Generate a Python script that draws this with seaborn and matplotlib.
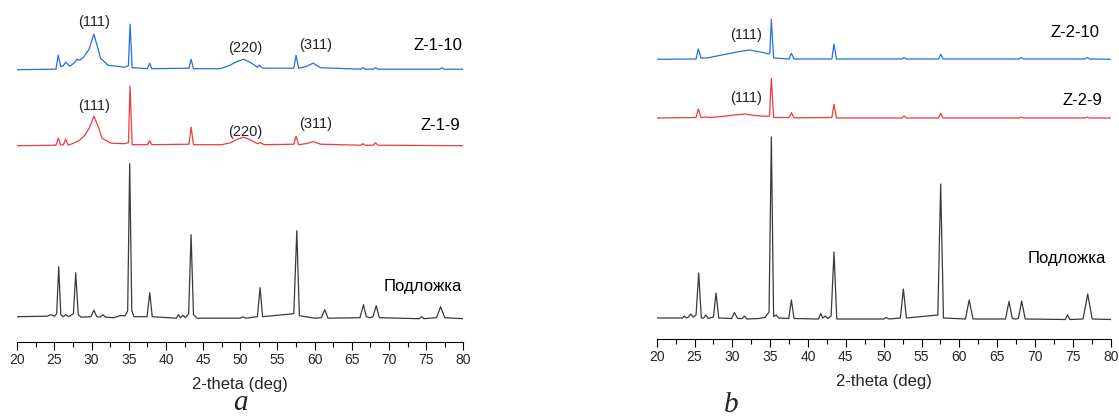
import numpy as np
import pandas as pd
import matplotlib
matplotlib.use("Agg")
import matplotlib.pyplot as plt
from matplotlib.ticker import MultipleLocator
import seaborn as sns

# ---- data (2-theta in deg, intensity in a.u. above each trace baseline)
# panel a, substrate
a_sub_theta = [20.0, 24.0, 24.5, 25.0, 25.3, 25.57, 25.85, 26.2, 26.5, 26.9, 27.55, 27.86, 28.2, 28.6,
               29.9, 30.3, 30.7, 31.1, 31.5, 31.9, 33.0, 33.8, 34.5, 34.85, 35.12, 35.4, 35.7, 37.45,
               37.82, 38.15, 41.4, 41.67, 41.95, 42.3, 42.6, 43.05, 43.38, 43.7, 44.2, 50.0, 50.3, 50.7,
               52.3, 52.66, 53.0, 57.2, 57.6, 57.95, 60.0, 60.9, 61.37, 61.8, 66.1, 66.57, 66.95, 67.4,
               67.85, 68.28, 68.7, 74.1, 74.4, 74.7, 76.4, 76.95, 77.5, 80.0]
a_sub_int = [2, 2.5, 4, 2.5, 5, 52, 4, 2, 4, 2, 5, 46, 4, 1.5,
             2, 8.5, 2, 1.5, 4, 1.5, 1, 3, 3, 8, 155, 8, 2, 2,
             26, 2, 0.5, 4, 1, 3.5, 1, 5, 84, 4, 0.5, 0.5, 2, 0.5,
             2, 31, 2, 5, 88, 3, 0.5, 1, 9, 0.5, 1, 14, 2, 1,
             2, 13, 1, 0, 2, 0, 1, 12, 1, 0]

# panel a, Z-1-9
a_z9_theta = [20.0, 25.2, 25.5, 25.85, 26.2, 26.5, 26.85, 27.4, 28.3, 29.1, 29.7, 30.3, 30.9, 31.4,
              32.6, 34.4, 34.95, 35.17, 35.45, 37.5, 37.8, 38.1, 43.1, 43.38, 43.7, 47.5, 48.7, 49.6,
              50.45, 51.3, 52.3, 52.75, 53.2, 57.2, 57.5, 57.85, 58.8, 59.8, 60.8, 66.2, 66.5, 66.8,
              67.9, 68.2, 68.5, 80.0]
a_z9_int = [2, 2.5, 9.5, 2.5, 3, 8.5, 2.5, 4, 7, 12.5, 20, 31.5, 21, 9.5,
            4.5, 4, 5, 61.5, 3, 3, 7, 3, 3.5, 20.5, 3, 3, 5, 8.5,
            10.5, 8, 4, 5, 3, 3.5, 11.5, 3, 4, 6, 3.5, 2.5, 4, 2.5,
            2.5, 5, 2.5, 2]

# panel a, Z-1-10
a_z10_theta = [20.0, 25.2, 25.5, 25.85, 26.2, 26.5, 27.1, 27.7, 28.0, 28.4, 28.9, 29.65, 30.3, 30.65,
               31.2, 32.2, 34.4, 34.95, 35.17, 35.45, 37.5, 37.8, 38.1, 43.1, 43.38, 43.7, 47.3, 48.5,
               49.5, 50.45, 51.4, 52.3, 52.55, 53.0, 57.2, 57.5, 57.85, 58.8, 59.8, 60.8, 66.2, 66.5,
               66.8, 67.9, 68.2, 68.5, 76.8, 77.1, 77.4, 80.0]
a_z10_int = [2, 2.5, 16.5, 5, 6, 9.5, 5.5, 9, 12.5, 11.5, 14.5, 22.5, 37.5, 28.5,
             13.5, 6.5, 4.5, 6, 47.5, 4, 3, 8.5, 3, 3.5, 12.5, 3, 3, 6,
             10, 12.5, 9, 4.5, 6.5, 3.5, 3.5, 16.5, 3.5, 5, 8.5, 4, 2.5, 4,
             2.5, 2.5, 4, 2.5, 2.5, 4, 2.5, 2.5]

# panel b, substrate
b_sub_theta = [20.0, 23.4, 23.65, 23.9, 24.2, 24.5, 24.8, 25.2, 25.55, 25.9, 26.2, 26.5, 26.8, 27.5,
               27.84, 28.2, 29.9, 30.26, 30.7, 31.3, 31.6, 31.9, 33.5, 34.3, 34.85, 35.15, 35.45, 35.8,
               36.1, 37.45, 37.8, 38.15, 41.4, 41.67, 41.95, 42.3, 42.6, 43.05, 43.43, 43.8, 50.0, 50.3,
               50.7, 52.2, 52.6, 53.0, 57.15, 57.53, 57.9, 60.8, 61.3, 61.8, 66.1, 66.56, 67.0, 67.4,
               67.8, 68.23, 68.7, 74.0, 74.3, 74.6, 76.35, 76.96, 77.55, 80.0]
b_sub_int = [2, 2, 4, 2, 3, 6, 3, 5, 47, 2, 2, 5, 1.5, 3,
             27, 2, 1.5, 7.5, 1.5, 1.5, 4, 1, 1.5, 2.5, 8, 183, 3.5, 5,
             2, 1.5, 20, 1.5, 1, 6.5, 2, 4, 1.5, 4, 68, 1, 1, 2.5,
             1, 2, 31, 2, 5, 136, 2, 1, 20, 1, 1, 18.5, 1.5, 1,
             1.5, 19, 1, 0.5, 5, 0.5, 1, 26, 1, 0.5]

# panel b, Z-2-9
b_z9_theta = [20.0, 25.2, 25.5, 25.85, 26.5, 27.0, 28.6, 30.2, 31.67, 33.0, 34.4, 34.9, 35.15, 35.45,
              37.5, 37.8, 38.15, 43.15, 43.43, 43.75, 52.4, 52.7, 53.0, 57.25, 57.53, 57.85, 67.9, 68.2,
              68.5, 76.6, 76.9, 77.2, 80.0]
b_z9_int = [2, 2.5, 11, 2.5, 3, 2.5, 3.5, 5, 6, 4.5, 3.7, 4, 41.7, 2.5,
            2.5, 7.3, 2.2, 2.5, 15.7, 2, 2, 4, 2, 2, 6.7, 2, 2, 2.8,
            2, 2, 3, 2, 2]

# panel b, Z-2-10
b_z10_theta = [20.0, 25.2, 25.5, 25.85, 26.5, 27.0, 28.6, 30.8, 32.33, 33.9, 34.8, 34.95, 35.15, 35.45,
               37.5, 37.8, 38.15, 43.15, 43.43, 43.75, 52.4, 52.7, 53.0, 57.25, 57.53, 57.85, 67.9, 68.2,
               68.5, 76.6, 76.9, 77.2, 80.0]
b_z10_int = [1.7, 2, 12, 3, 3, 3.5, 6, 9.3, 11, 8.7, 7, 8, 41.7, 3,
             2, 7.7, 2, 2, 17, 2, 2, 3.5, 2, 2, 6.7, 2, 2, 3.5,
             2, 2, 3.5, 2, 1.7]

xticks = list(range(20, 81, 5))
substrate_label = "Подложка"

# ---- style
sns.set_theme(style="ticks")
plt.rcParams["font.family"] = ["Liberation Sans", "DejaVu Sans"]

BLACK = "#3a3a3a"
RED = "#ee3b3b"
BLUE = "#2470de"
LW = 0.9

fig = plt.figure(figsize=(11.19, 4.17), dpi=100)
ax_a = fig.add_axes([17.3 / 1119, 75.3 / 417, 446 / 1119, 341.7 / 417])
ax_b = fig.add_axes([656.7 / 1119, 78 / 417, 454 / 1119, 339 / 417])


def trace(ax, theta, inten, offset, color):
    df = pd.DataFrame({"theta": theta, "I": np.array(inten) + offset})
    sns.lineplot(data=df, x="theta", y="I", ax=ax, color=color, lw=LW, estimator=None)


# panel a
trace(ax_a, a_sub_theta, a_sub_int, 23, BLACK)
trace(ax_a, a_z9_theta, a_z9_int, 194, RED)
trace(ax_a, a_z10_theta, a_z10_int, 270, BLUE)
ax_a.set_ylim(0, 341.7)

# panel b
trace(ax_b, b_sub_theta, b_sub_int, 19, BLACK)
trace(ax_b, b_z9_theta, b_z9_int, 219, RED)
trace(ax_b, b_z10_theta, b_z10_int, 278, BLUE)
ax_b.set_ylim(0, 339)

for ax in (ax_a, ax_b):
    ax.set_xlim(20, 80)
    ax.set_xticks(xticks)
    ax.xaxis.set_minor_locator(MultipleLocator(2.5))
    ax.tick_params(axis="x", which="major", direction="out", length=5.5, width=0.8,
                   labelsize=10, pad=2.5, color="black")
    ax.tick_params(axis="x", which="minor", direction="out", length=3.5, width=0.8, color="black")
    ax.set_yticks([])
    ax.set_ylabel("")
    ax.set_xlabel("2-theta (deg)", fontsize=12, labelpad=7)
    ax.patch.set_alpha(0)
    sns.despine(ax=ax, left=True)
    ax.spines["bottom"].set_color("black")
    ax.spines["bottom"].set_linewidth(0.8)

# annotations, panel a
ann = dict(fontsize=10.5, ha="center", va="center", color="#222222")
ax_a.text(30.36, 320, "(111)", **ann)
ax_a.text(30.3, 235.7, "(111)", **ann)
ax_a.text(50.65, 293.4, "(220)", **ann)
ax_a.text(50.65, 210, "(220)", **ann)
ax_a.text(60.2, 296.7, "(311)", **ann)
ax_a.text(60.2, 217.4, "(311)", **ann)
ax_a.text(79.85, 296.7, "Z-1-10", fontsize=12, ha="right", va="center", color="black")
ax_a.text(79.6, 215.7, "Z-1-9", fontsize=12, ha="right", va="center", color="black")
ax_a.text(79.85, 55, substrate_label, fontsize=12, ha="right", va="center", color="black")

# annotations, panel b
ax_b.text(31.76, 304, "(111)", **ann)
ax_b.text(31.76, 240.7, "(111)", **ann)
ax_b.text(78.58, 306.3, "Z-2-10", fontsize=12, ha="right", va="center", color="black")
ax_b.text(78.94, 238.3, "Z-2-9", fontsize=12, ha="right", va="center", color="black")
ax_b.text(79.38, 80.7, substrate_label, fontsize=12, ha="right", va="center", color="black")

fig.text(240 / 1119, 1 - 403 / 417, "a", family=["Liberation Serif", "DejaVu Serif"],
         style="italic", fontsize=21, ha="center", va="center")
fig.text(731 / 1119, 1 - 405 / 417, "b", family=["Liberation Serif", "DejaVu Serif"],
         style="italic", fontsize=21, ha="center", va="center")

fig.savefig("out.png", dpi=100)
